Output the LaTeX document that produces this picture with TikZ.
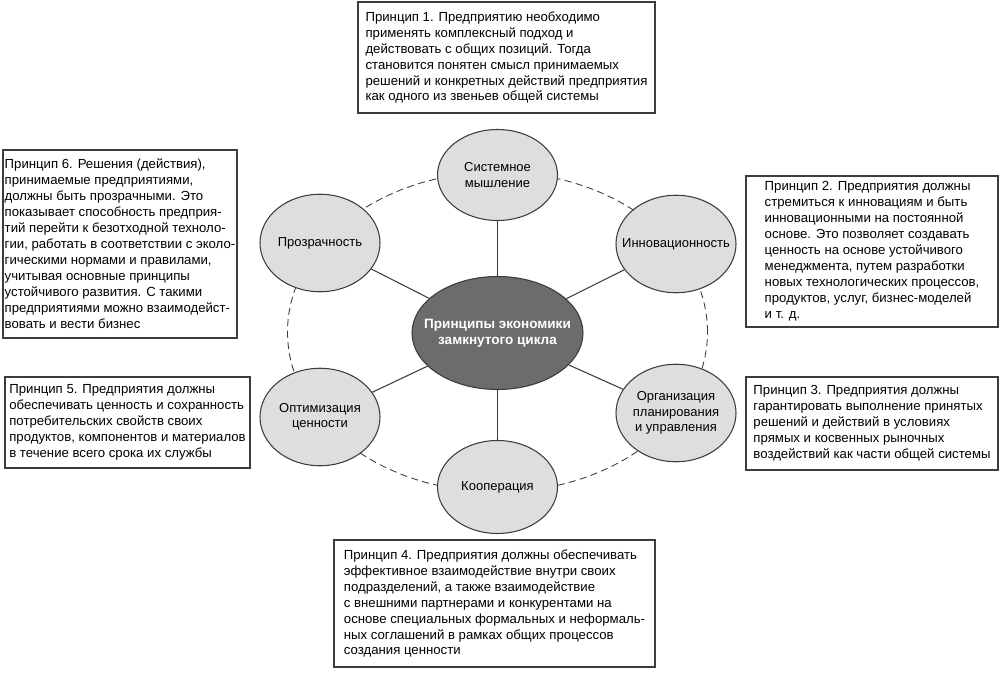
\documentclass[tikz,border=0pt]{standalone}
\usepackage{fontspec}
\setmainfont{Liberation Sans}
\usepackage{tikz}
\usetikzlibrary{shapes, shapes.geometric, positioning, calc}
\usepackage{xcolor}
\definecolor{circlegray}{RGB}{222, 222, 222}
\definecolor{coregray}{RGB}{108, 108, 108}
\definecolor{edgegray}{RGB}{60, 60, 60}

\begin{document}
\begin{tikzpicture}[
  principlebox/.style = {rectangle, draw=edgegray, line width=0.9pt, fill=white,
                         align=left, inner sep=0pt,
                         font=\fontsize{7.5}{9.1}\selectfont},
  ideacircle/.style = {ellipse, draw=edgegray, line width=0.6pt, fill=circlegray,
                       minimum width=2.4cm, minimum height=1.95cm, inner sep=0pt},
  idealabel/.style = {align=center, inner sep=0pt, font=\fontsize{7.4}{8.8}\selectfont},
  corecircle/.style = {ellipse, draw=edgegray, line width=0.6pt, fill=coregray,
                       minimum width=3.42cm, minimum height=2.26cm, inner sep=0pt},
  corelabel/.style = {align=center, inner sep=0pt, text=white,
                      font=\fontsize{7.7}{9.2}\selectfont\bfseries},
  spoke/.style = {line width=0.6pt, edgegray},
  ring/.style = {line width=0.5pt, edgegray, dash pattern=on 4pt off 2.5pt}
]
\useasboundingbox (0,0) rectangle (20,-13.46);
\draw[ring] (9.95,-6.64) ellipse [x radius=4.2cm, y radius=3.2cm];

\node[corecircle, label={[corelabel]center:Принципы экономики\\замкнутого цикла}] (core) at (9.95,-6.66) {};
\node[ideacircle, minimum height=1.82cm, label={[idealabel]center:Системное\\мышление}] (sys) at (9.95,-3.5) {};
\node[ideacircle, label={[idealabel]center:Инновационность}] (inn) at (13.52,-4.88) {};
\node[ideacircle, label={[idealabel]center:Организация\\планирования\\и управления}] (org) at (13.52,-8.26) {};
\node[ideacircle, minimum height=1.86cm, label={[idealabel]center:Кооперация}] (coop) at (9.95,-9.74) {};
\node[ideacircle, label={[idealabel]center:Оптимизация\\ценности}] (opt) at (6.4,-8.34) {};
\node[ideacircle, label={[idealabel]center:Прозрачность}] (trans) at (6.4,-4.86) {};

\draw[spoke] (core) -- (sys);
\draw[spoke] (core) -- (inn);
\draw[spoke] (core) -- (org);
\draw[spoke] (core) -- (coop);
\draw[spoke] (core) -- (opt);
\draw[spoke] (core) -- (trans);

\node[principlebox, minimum width=5.94cm, minimum height=2.22cm] (p1) at (10.13,-1.15)
  {Принцип 1. Предприятию необходимо\\применять комплексный подход и\\действовать с общих позиций. Тогда\\становится понятен смысл принимаемых\\решений и конкретных действий предприятия\\как одного из звеньев общей системы};
\node[principlebox, minimum width=5.04cm, minimum height=3.02cm] (p2) at (17.44,-5.03)
  {Принцип 2. Предприятия должны\\стремиться к инновациям и быть\\инновационными на постоянной\\основе. Это позволяет создавать\\ценность на основе устойчивого\\менеджмента, путем разработки\\новых технологических процессов,\\продуктов, услуг, бизнес-моделей\\и т. д.};
\node[principlebox, minimum width=5.04cm, minimum height=1.86cm] (p3) at (17.44,-8.47)
  {Принцип 3. Предприятия должны\\гарантировать выполнение принятых\\решений и действий в условиях\\прямых и косвенных рыночных\\воздействий как части общей системы};
\node[principlebox, minimum width=6.42cm, minimum height=2.54cm] (p4) at (9.89,-12.07)
  {Принцип 4. Предприятия должны обеспечивать\\эффективное взаимодействие внутри своих\\подразделений, а также взаимодействие\\с внешними партнерами и конкурентами на\\основе специальных формальных и неформаль-\\ных соглашений в рамках общих процессов\\создания ценности};
\node[principlebox, minimum width=4.9cm, minimum height=1.82cm] (p5) at (2.55,-8.45)
  {Принцип 5. Предприятия должны\\обеспечивать ценность и сохранность\\потребительских свойств своих\\продуктов, компонентов и материалов\\в течение всего срока их службы};
\node[principlebox, minimum width=4.68cm, minimum height=3.76cm] (p6) at (2.4,-4.88)
  {Принцип 6. Решения (действия),\\принимаемые предприятиями,\\должны быть прозрачными. Это\\показывает способность предприя-\\тий перейти к безотходной техноло-\\гии, работать в соответствии с эколо-\\гическими нормами и правилами,\\учитывая основные принципы\\устойчивого развития. С такими\\предприятиями можно взаимодейст-\\вовать и вести бизнес};
\end{tikzpicture}
\end{document}
